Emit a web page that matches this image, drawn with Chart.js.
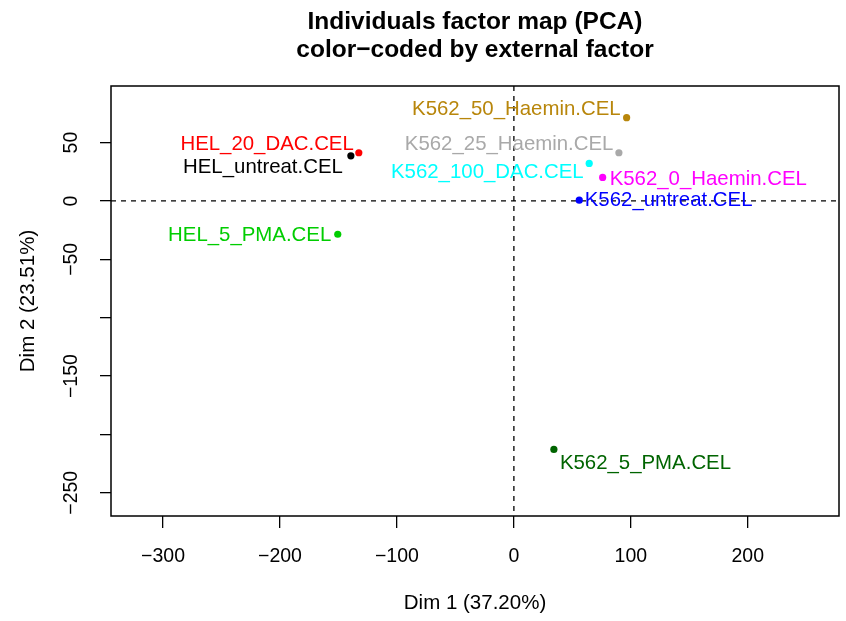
<!DOCTYPE html>
<html>
<head>
<meta charset="utf-8">
<script src="https://cdn.jsdelivr.net/npm/chart.js@4"></script>
<style>
  body { margin: 0; background: #fff; }
  canvas { display: block; }
</style>
</head>
<body>
<canvas id="pcaChart" width="846" height="621"></canvas>
<script>
// individus (coordonnees)
var samples = ['HEL_untreat.CEL', 'HEL_20_DAC.CEL', 'HEL_5_PMA.CEL', 'K562_untreat.CEL', 'K562_100_DAC.CEL',
               'K562_0_Haemin.CEL', 'K562_25_Haemin.CEL', 'K562_50_Haemin.CEL', 'K562_5_PMA.CEL'];
var dim1 = [-139.4, -132.6, -150.6, 55.9, 64.4, 75.9, 89.8, 96.4, 34.2];
var dim2 = [38.7, 41.3, -28.5, 0.7, 32.2, 20.2, 41.3, 71.4, -212.9];
var xTicks = [-300, -200, -100, 0, 100, 200];
var yTicks = [-250, -200, -150, -100, -50, 0, 50];
var yLabelled = [-250, -150, -50, 0, 50];

// couleurs (palette R)
var colors = ['#000000', '#FF0000', '#00CD00', '#0000FF', '#00FFFF', '#FF00FF', '#A9A9A9', '#B8860B', '#006400'];
// placement des etiquettes : cote + decalage en px
var labelSide = ['left', 'left', 'left', 'right', 'left', 'right', 'left', 'left', 'right'];
var labelDx = [8, 5, 6.5, 5.5, 5.5, 7, 5.5, 6, 6];
var labelDy = [10, -10.5, -1, -1, 7.5, 0, -10.5, -9.5, 12.5];

var FONT = "'Liberation Sans', Arial, Helvetica, sans-serif";
Chart.defaults.font.family = FONT;
Chart.defaults.color = '#000';

function minus(v) {
    return String(v).replace('-', '\u2212');
}

var pcaDecor = {
    id: 'pcaDecor',
    beforeDatasetsDraw: function(chart) {
        var ctx = chart.ctx, a = chart.chartArea;
        var x0 = chart.scales.x.getPixelForValue(0);
        var y0 = chart.scales.y.getPixelForValue(0);
        ctx.save();
        ctx.strokeStyle = '#000';
        ctx.lineWidth = 1.3;
        ctx.setLineDash([5, 5]);
        ctx.beginPath();
        ctx.moveTo(a.left, y0); ctx.lineTo(a.right, y0);
        ctx.moveTo(x0, a.top); ctx.lineTo(x0, a.bottom);
        ctx.stroke();
        ctx.setLineDash([]);
        ctx.lineWidth = 1.5;
        ctx.strokeRect(a.left, a.top, a.right - a.left, a.bottom - a.top);
        ctx.restore();
    },
    afterDatasetsDraw: function(chart) {
        var ctx = chart.ctx;
        var size = 20.4;
        ctx.save();
        ctx.font = size + 'px ' + FONT;
        ctx.textBaseline = 'alphabetic';
        for (var i = 0; i < samples.length; i++) {
            var px = chart.scales.x.getPixelForValue(dim1[i]);
            var py = chart.scales.y.getPixelForValue(dim2[i]);
            ctx.fillStyle = colors[i];
            if (labelSide[i] == 'left') {
                ctx.textAlign = 'right';
                px -= labelDx[i];
            } else {
                ctx.textAlign = 'left';
                px += labelDx[i];
            }
            ctx.fillText(samples[i], px, py + labelDy[i] + size * 0.358);
        }
        ctx.restore();
    }
};

var points = [];
for (var i = 0; i < samples.length; i++) {
    points.push({ x: dim1[i], y: dim2[i] });
}

var ctx = document.getElementById('pcaChart').getContext('2d');
var pcaChart = new Chart(ctx, {
    type: 'scatter',
    data: {
        datasets: [{
            data: points,
            backgroundColor: colors,
            borderWidth: 0,
            pointRadius: 3.6,
            pointHoverRadius: 3.6
        }]
    },
    options: {
        responsive: false,
        animation: false,
        layout: { padding: { right: 7 } },
        plugins: {
            legend: { display: false },
            tooltip: { enabled: false },
            title: {
                display: true,
                fullSize: false,
                text: ['Individuals factor map (PCA)', 'color\u2212coded by external factor'],
                color: '#000',
                font: { size: 24.5, weight: 'bold', lineHeight: 28 / 24.5 },
                padding: { top: 8, bottom: 22 }
            }
        },
        scales: {
            x: {
                type: 'linear',
                min: -344.5,
                max: 278,
                afterBuildTicks: function(s) { s.ticks = xTicks.map(function(v) { return { value: v }; }); },
                afterFit: function(s) { s.height = 105; },
                border: { display: false },
                grid: { drawOnChartArea: false, drawTicks: true, tickLength: 12, color: '#000', lineWidth: 1.3 },
                ticks: {
                    autoSkip: false, maxRotation: 0, padding: 17,
                    font: { size: 19.5 },
                    callback: function(v) { return minus(v); }
                },
                title: { display: true, text: 'Dim 1 (37.20%)', font: { size: 20.5 }, padding: { top: 0, bottom: 5 } }
            },
            y: {
                type: 'linear',
                min: -269.9,
                max: 98.5,
                afterBuildTicks: function(s) { s.ticks = yTicks.map(function(v) { return { value: v }; }); },
                afterFit: function(s) { s.width = 111; },
                border: { display: false },
                grid: { drawOnChartArea: false, drawTicks: true, tickLength: 11, color: '#000', lineWidth: 1.3 },
                ticks: {
                    autoSkip: false, minRotation: 90, maxRotation: 90, crossAlign: 'center', padding: 6,
                    font: { size: 19.5 },
                    callback: function(v) { return yLabelled.indexOf(v) >= 0 ? minus(v) : ''; }
                },
                title: { display: true, text: 'Dim 2 (23.51%)', font: { size: 20.5 }, padding: { top: 16, bottom: 0 } }
            }
        }
    },
    plugins: [pcaDecor]
});
</script>
</body>
</html>
